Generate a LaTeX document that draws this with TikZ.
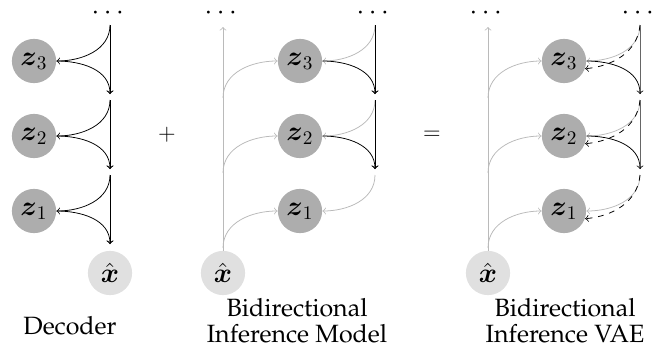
\documentclass[tikz,border=0pt]{standalone}
\usepackage[T1]{fontenc}
\usepackage{palatino}
\usepackage{amsmath}
\begin{document}
\begin{tikzpicture}[x=0.52pt, y=-0.52pt]

\def \rows {3/61, 2/136, 1/211}

\tikzset{latent/.style = {circle, fill=black!32, minimum size=23pt, inner sep=0pt, font=\Large}}
\tikzset{observed/.style = {circle, fill=black!12, minimum size=23pt, inner sep=0pt, font=\Large}}
\tikzset{faint/.style = {black!27}}
\tikzset{more/.style = {inner sep=0pt, font=\Large}}
\tikzset{caption/.style = {align=center, font={\fontsize{13pt}{13.4pt}\selectfont}}}

\useasboundingbox (0, 0) rectangle (666, 357);

% Decoder
\node[observed] (dx) at (110, 273) {$\hat{\boldsymbol{x}}$};
\node[more] (ddots) at (110, 13) {$\cdots$};

\foreach \i/\y in \rows
{
	\node[latent] (d\i) at (34, \y) {$\boldsymbol{z}_\i$};
	\coordinate (dtop\i) at (110, {\y - 36});
	\coordinate (dbot\i) at (110, {\y + 33});
	\draw[->] (dtop\i) -- (dbot\i);
	\draw[->] (dtop\i) to[out=-90, in=0] (d\i.east);
	\draw[->] (d\i.east) to[out=0, in=90] (dbot\i);
}

\node[font=\large] (plus) at (167, 135) {$+$};

% Bidirectional inference model
\node[observed] (ix) at (223, 273) {$\hat{\boldsymbol{x}}$};
\node[more] (idotsl) at (223, 13) {$\cdots$};
\node[more] (idotsr) at (375, 13) {$\cdots$};
\coordinate (iup) at (223, 27);
\draw[faint, ->] (ix) -- (iup);

\foreach \i/\y in \rows
{
	\node[latent] (i\i) at (300, \y) {$\boldsymbol{z}_\i$};
	\coordinate (ibr\i) at (223, {\y + 37});
	\coordinate (itop\i) at (375, {\y - 36});
	\coordinate (ibot\i) at (375, {\y + 33});
	\draw[faint, ->] (ibr\i) to[out=90, in=180] (i\i.west);
	\draw[faint, ->] (itop\i) to[out=-90, in=0] (i\i.east);
}

\foreach \i in {2,3}
{
	\draw[->] (itop\i) -- (ibot\i);
	\draw[->] (i\i.east) to[out=0, in=90] (ibot\i);
}

\node[font=\large] (equals) at (432, 135) {$=$};

% Bidirectional inference VAE
\node[observed] (vx) at (488, 273) {$\hat{\boldsymbol{x}}$};
\node[more] (vdotsl) at (488, 13) {$\cdots$};
\node[more] (vdotsr) at (640, 13) {$\cdots$};
\coordinate (vup) at (488, 27);
\draw[faint, ->] (vx) -- (vup);

\foreach \i/\y in \rows
{
	\node[latent] (v\i) at (564, \y) {$\boldsymbol{z}_\i$};
	\coordinate (vbr\i) at (488, {\y + 37});
	\coordinate (vtop\i) at (640, {\y - 36});
	\coordinate (vbot\i) at (640, {\y + 33});
	\draw[faint, ->] (vbr\i) to[out=90, in=180] (v\i.west);
	\draw[faint, ->] (vtop\i) to[out=-90, in=0] (v\i.east);
	\draw[dashed, ->] (vtop\i) to[out=-95, in=5] (v\i.-20);
}

\foreach \i in {2,3}
{
	\draw[black!60] (vtop\i) -- (vbot\i);
	\draw[->] (v\i.east) to[out=0, in=90] (vbot\i);
}

% captions
\node[caption] (dcap) at (70, 326) {Decoder};
\node[caption] (icap) at (297, 321) {Bidirectional\\Inference Model};
\node[caption] (vcap) at (565, 321) {Bidirectional\\Inference VAE};

\end{tikzpicture}
\end{document}
